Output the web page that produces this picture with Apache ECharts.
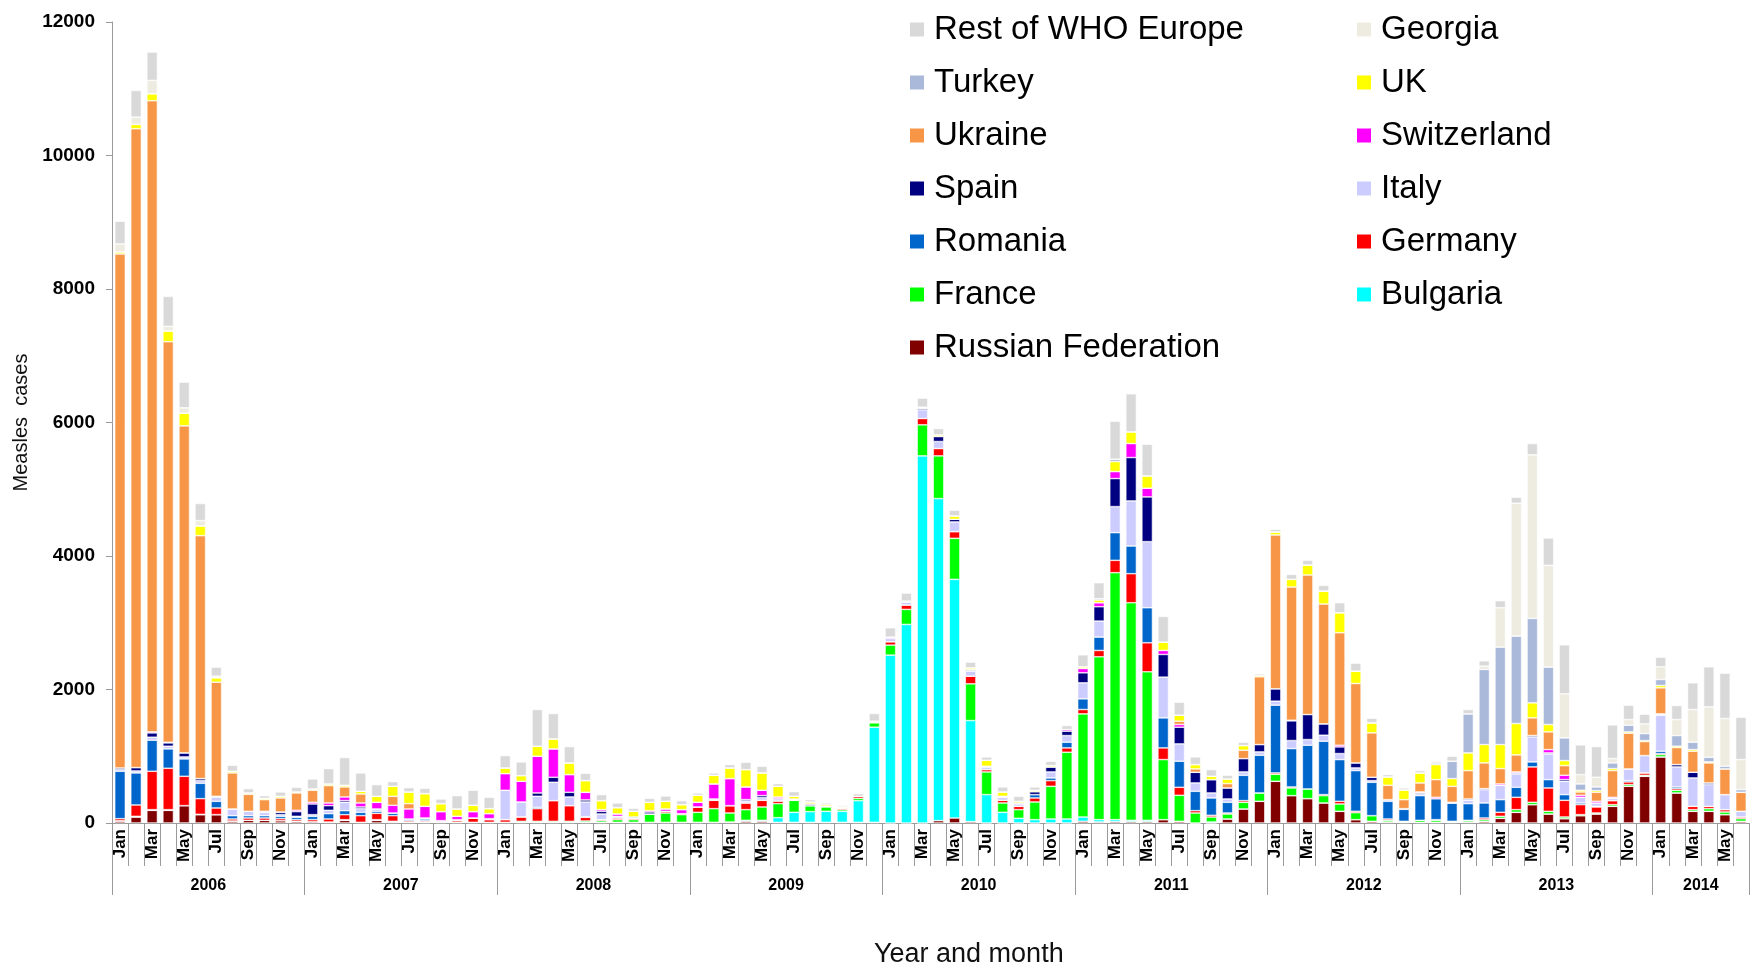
<!DOCTYPE html>
<html>
<head>
<meta charset="utf-8">
<script src="https://cdn.jsdelivr.net/npm/echarts@6/dist/echarts.min.js"></script>
<style>
html,body{margin:0;padding:0;background:#fff;}
#chart{width:1752px;height:965px;}
</style>
</head>
<body>
<div id="chart"></div>
<script>
// ---- data (cases per month, Jan 2006 - Jun 2014) ----
const monthNames = ['Jan','Feb','Mar','Apr','May','Jun','Jul','Aug','Sep','Oct','Nov','Dec'];
const yearLabels = ['2006','2007','2008','2009','2010','2011','2012','2013','2014'];
const monthsPerYear = [12,12,12,12,12,12,12,12,6];
const yTicks = [0,2000,4000,6000,8000,10000,12000];

const russia = [30,90,190,190,260,125,125,30,40,40,35,25,
  20,15,40,10,40,15,15,10,10,10,10,10,
  10,10,10,10,10,10,10,10,10,10,10,10,
  10,10,15,25,25,10,10,10,10,10,10,10,
  0,0,0,35,75,20,0,0,0,0,0,0,
  25,15,20,20,20,50,25,0,0,60,210,325,
  625,410,365,300,175,50,25,15,10,10,10,10,
  15,25,70,160,275,135,65,110,135,250,550,700,
  990,450,175,175,125,25];
const bulgaria = [0,0,0,0,0,0,0,0,0,0,0,0,
  0,0,0,0,0,0,0,0,0,0,0,0,
  0,0,0,0,0,0,0,0,0,0,0,0,
  0,0,0,15,15,70,150,160,165,165,325,1425,
  2515,2975,5500,4825,3575,1515,425,160,70,50,60,60,
  65,35,30,20,20,0,0,0,15,0,0,0,
  0,0,0,0,0,0,0,0,0,0,0,0,
  0,0,0,0,0,0,0,0,0,0,0,0,
  0,0,0,0,0,0];
const france = [5,10,10,10,0,5,0,0,0,0,0,0,
  0,0,10,0,10,10,0,10,0,0,0,0,
  0,15,15,15,15,20,25,40,40,125,140,115,
  150,205,135,160,200,210,180,90,65,25,35,65,
  150,225,465,640,615,550,340,140,130,265,490,1000,
  1545,2440,3700,3260,2225,900,390,150,75,75,100,125,
  105,115,145,110,110,105,85,25,15,30,30,15,
  25,25,30,40,35,40,25,15,15,25,25,15,
  35,40,25,40,40,40];
const germany = [30,170,575,620,440,235,100,30,35,35,30,25,
  30,45,75,100,95,85,20,15,10,25,65,40,
  40,65,190,310,235,55,15,25,20,0,25,15,
  80,125,110,100,100,40,0,0,10,25,30,10,
  50,65,95,110,100,115,35,40,50,60,85,65,
  65,95,185,435,435,175,120,35,25,15,25,0,
  20,15,0,15,40,20,0,20,0,0,10,0,
  0,25,60,185,530,350,250,150,90,60,40,35,
  15,25,50,35,35,25];
const romania = [710,480,465,290,260,230,100,50,35,35,35,35,
  50,80,60,50,30,40,25,25,0,0,0,0,
  0,0,20,0,0,10,0,0,0,0,0,0,
  0,0,0,0,0,0,0,0,0,0,0,0,
  0,0,0,0,0,0,0,0,0,50,40,85,
  160,200,415,415,525,450,390,290,260,160,380,565,
  1015,575,655,800,625,610,500,265,180,370,315,275,
  250,225,190,150,75,125,85,25,10,0,20,0,
  35,25,0,0,0,0];
const italy = [25,30,45,40,30,40,65,100,65,50,25,15,
  25,50,125,55,35,0,0,15,15,15,0,15,
  440,225,165,275,130,220,85,25,0,0,0,0,
  0,20,0,30,40,35,20,0,0,0,0,0,
  50,45,130,105,145,75,40,45,35,0,90,100,
  240,240,390,675,990,610,260,125,75,50,50,50,
  60,120,85,90,90,40,25,25,10,30,0,0,
  50,200,215,200,375,385,200,85,50,35,175,260,
  540,300,425,325,225,85];
const spain = [25,50,65,50,60,30,0,0,0,15,35,70,
  160,70,25,25,0,0,0,0,0,0,0,0,
  0,0,50,75,70,30,40,0,20,30,0,0,
  0,0,0,20,30,0,0,25,0,0,0,0,
  0,0,25,75,40,15,0,0,15,45,75,65,
  150,215,420,650,670,340,250,160,200,165,200,110,
  185,295,375,170,100,75,50,0,0,15,0,0,
  20,15,0,15,20,15,25,0,0,0,0,0,
  10,35,85,25,0,0];
const switzerland = [0,0,15,10,0,0,10,0,0,0,5,20,
  25,40,55,60,100,115,150,175,135,50,95,75,
  250,310,550,425,265,115,25,35,0,20,35,60,
  70,225,405,190,80,25,0,0,0,0,0,0,
  20,0,0,0,0,10,10,15,0,0,0,25,
  65,60,105,210,130,60,40,0,0,0,0,0,
  0,10,0,0,25,0,0,0,0,10,20,10,
  0,0,20,15,0,50,65,30,25,15,0,0,
  10,0,0,0,0,0];
const ukraine = [7700,9570,9455,6000,4900,3640,1710,540,255,175,210,260,
  180,260,150,135,0,135,80,0,0,0,0,0,
  0,0,0,0,0,0,0,0,0,0,0,0,
  0,0,0,0,0,0,0,0,0,0,0,0,
  0,0,0,0,0,0,0,0,0,0,0,0,
  0,0,0,0,0,0,50,50,0,65,125,1015,
  2305,1995,2090,1795,1685,1190,665,215,135,135,265,240,
  425,385,230,255,265,265,145,50,135,400,535,210,
  390,255,315,300,385,285];
const uk = [30,65,105,160,190,145,65,25,20,20,25,15,
  20,25,25,40,90,150,175,190,120,110,95,75,
  85,85,150,150,175,175,135,95,85,125,115,75,
  105,130,160,260,260,160,40,30,25,15,0,15,
  0,15,15,25,50,25,90,65,25,20,20,0,
  25,40,150,175,185,125,90,65,50,70,70,20,
  45,115,150,195,300,185,150,125,145,150,225,115,
  265,275,360,470,225,110,75,25,25,30,20,15,
  35,20,25,15,0,0];
const turkey = [0,0,0,0,0,0,0,0,0,0,0,0,
  0,0,0,0,0,0,0,0,0,0,0,0,
  0,0,0,0,0,0,0,0,0,0,0,0,
  0,0,0,0,0,0,0,0,0,0,0,0,
  0,0,0,0,0,0,0,0,0,0,0,0,
  0,20,35,0,0,0,0,0,0,0,0,0,
  0,0,0,0,0,0,0,0,0,0,25,260,
  585,1125,1460,1310,1265,860,340,95,55,85,100,105,
  90,160,110,70,40,40];
const georgia = [120,110,200,70,80,80,25,0,0,0,0,0,
  0,0,0,0,0,0,0,0,0,0,0,0,
  0,0,0,0,0,0,0,0,0,0,0,0,
  0,0,0,0,0,0,0,0,0,0,0,0,
  0,0,0,0,0,0,0,0,0,0,0,0,
  0,0,0,0,0,0,0,0,0,0,0,0,
  0,0,0,0,0,0,0,0,0,0,0,0,
  0,50,590,1990,2450,1525,660,140,145,65,85,145,
  190,240,490,755,715,450];
const restOfEurope = [340,400,425,450,385,257,135,90,65,40,65,70,
  150,230,415,275,175,70,65,80,70,200,225,170,
  185,205,550,380,245,110,90,70,45,60,80,60,
  35,35,50,110,100,40,70,35,25,20,40,115,
  140,120,135,95,85,85,50,75,75,50,65,60,
  180,240,570,570,475,385,195,115,100,55,50,25,
  40,75,70,85,150,120,70,35,30,35,25,75,
  65,80,105,90,170,410,735,445,460,505,215,145,
  145,210,400,600,680,635];

// ---- build categories ----
const categories = [];
yearLabels.forEach((y, i) => {
  for (let m = 0; m < monthsPerYear[i]; m++) categories.push(monthNames[m] + ' ' + y);
});
const totalMonths = categories.length;
// year label centers (in month units)
const yearCenters = {};
let acc = 0;
yearLabels.forEach((y, i) => { yearCenters[acc + monthsPerYear[i] / 2] = y; acc += monthsPerYear[i]; });

const seriesDefs = [
  ['Russian Federation', russia, '#800000'],
  ['Bulgaria', bulgaria, '#00FFFF'],
  ['France', france, '#00FF00'],
  ['Germany', germany, '#FF0000'],
  ['Romania', romania, '#0066CC'],
  ['Italy', italy, '#CCCCFF'],
  ['Spain', spain, '#000080'],
  ['Switzerland', switzerland, '#FF00FF'],
  ['Ukraine', ukraine, '#F79646'],
  ['UK', uk, '#FFFF00'],
  ['Turkey', turkey, '#AAB9DA'],
  ['Georgia', georgia, '#EEECE1'],
  ['Rest of WHO Europe', restOfEurope, '#D9D9D9']
];

const FONT = '"Liberation Sans", Arial, sans-serif';
const axisGray = '#9a9a9a';

const chart = echarts.init(document.getElementById('chart'), null, {renderer: 'canvas'});
const legendText = {fontFamily: FONT, fontSize: 33, color: '#000', padding: [0, 0, 0, 4]};
const option = {
  animation: false,
  backgroundColor: '#fff',
  title: {
    text: 'Year and month',
    left: 874, top: 941, padding: 0,
    textStyle: {fontFamily: FONT, fontSize: 27, fontWeight: 'normal', color: '#111'}
  },
  legend: [
    {
      orient: 'vertical', left: 903, top: 8, itemGap: 20, itemWidth: 16, itemHeight: 16,
      icon: 'rect', textStyle: legendText,
      data: ['Rest of WHO Europe','Turkey','Ukraine','Spain','Romania','France','Russian Federation']
    },
    {
      orient: 'vertical', left: 1350, top: 8, itemGap: 20, itemWidth: 16, itemHeight: 16,
      icon: 'rect', textStyle: legendText,
      data: ['Georgia','UK','Switzerland','Italy','Germany','Bulgaria']
    }
  ],
  grid: {left: 112, right: -10, top: 22, bottom: 142, containLabel: false},
  xAxis: [
    {
      type: 'category', data: categories, position: 'bottom', boundaryGap: true,
      axisLine: {show: true, lineStyle: {color: axisGray, width: 1}},
      axisTick: {show: true, interval: 0, length: 43, lineStyle: {color: axisGray}},
      axisLabel: {
        interval: 1, rotate: 90, margin: 6,
        fontFamily: FONT, fontSize: 17, fontWeight: 'bold', color: '#000',
        formatter: v => v.split(' ')[0]
      },
      splitLine: {show: false}
    },
    {
      type: 'value', min: 0, max: totalMonths, interval: 3, position: 'bottom',
      axisLine: {show: false}, axisTick: {show: false}, splitLine: {show: false},
      axisLabel: {
        show: true, margin: 55, fontFamily: FONT, fontSize: 16, fontWeight: 'bold', color: '#000',
        showMinLabel: true, showMaxLabel: true,
        formatter: v => (yearCenters[v] !== undefined ? yearCenters[v] : '')
      }
    },
    {
      type: 'value', min: 0, max: totalMonths, interval: 12, position: 'bottom',
      axisLine: {show: false}, splitLine: {show: false}, axisLabel: {show: false},
      axisTick: {show: true, length: 72, lineStyle: {color: axisGray}}
    }
  ],
  yAxis: {
    type: 'value', min: yTicks[0], max: yTicks[yTicks.length - 1], interval: yTicks[1] - yTicks[0],
    name: 'Measles  cases', nameLocation: 'middle', nameGap: 80,
    nameTextStyle: {fontFamily: FONT, fontSize: 20, color: '#111'},
    axisLine: {show: true, lineStyle: {color: axisGray}},
    axisTick: {show: true, length: 6, lineStyle: {color: axisGray}},
    axisLabel: {margin: 17, fontFamily: FONT, fontSize: 19, fontWeight: 'bold', color: '#000',
      formatter: v => String(v)},
    splitLine: {show: false}
  },
  series: seriesDefs.map(([name, data, color]) => ({
    name, type: 'bar', stack: 'total', data,
    xAxisIndex: 0, yAxisIndex: 0,
    barCategoryGap: '34%',
    itemStyle: {color, borderColor: '#ffffff', borderWidth: 0.6},
    emphasis: {disabled: true}
  }))
};
chart.setOption(option);
</script>
</body>
</html>
